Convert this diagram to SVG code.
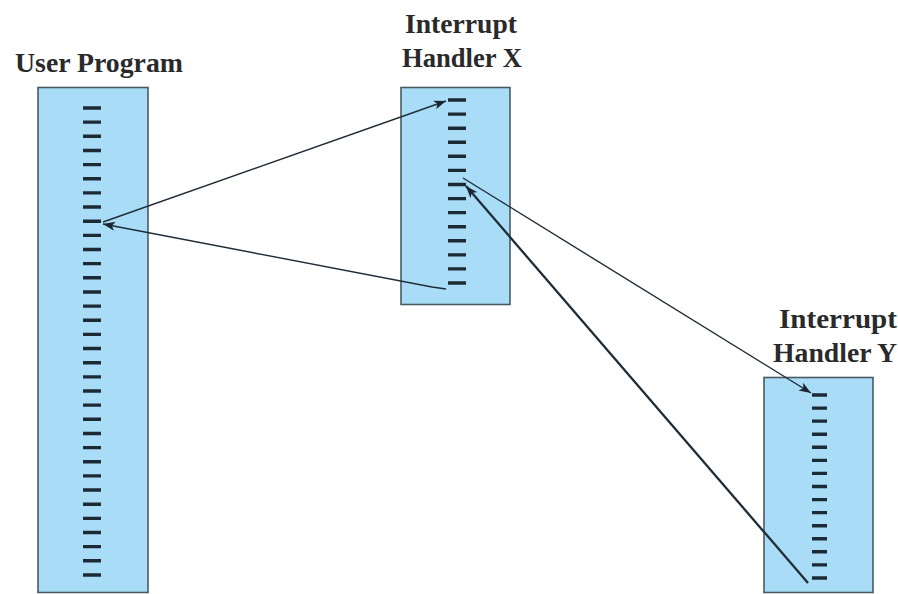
<svg xmlns="http://www.w3.org/2000/svg" width="898" height="594" viewBox="0 0 898 594">
  <style>
    .box { fill: #a9dcf6; stroke: #4a5a62; stroke-width: 1.6; }
    .dash { fill: none; stroke: #1c2a36; stroke-width: 3.4; }
    .lbl { font-family: "Liberation Serif", "Times New Roman", serif; font-weight: bold; font-size: 27px; fill: #2a2a2a; }
    .conn { fill: none; stroke: #1f2d38; stroke-width: 1.4; }
    .conn.thick { stroke-width: 2.3; }
  </style>
  <defs>
    <marker id="ah" markerUnits="userSpaceOnUse" markerWidth="14" markerHeight="10" refX="12" refY="5" orient="auto">
      <path d="M0,0.5 L12,5 L0,9.5 L3,5 Z" fill="#1a2630"/>
    </marker>
  </defs>
  <rect width="898" height="594" fill="#ffffff"/>

  <g id="user-program">
    <rect class="box" x="38" y="87.5" width="110" height="505"/>
    <path class="dash" d="M83,108h18M83,122.15h18M83,136.3h18M83,150.45h18M83,164.6h18M83,178.75h18M83,192.9h18M83,207.05h18M83,221.2h18M83,235.35h18M83,249.5h18M83,263.65h18M83,277.8h18M83,291.95h18M83,306.1h18M83,320.25h18M83,334.4h18M83,348.55h18M83,362.7h18M83,376.85h18M83,391h18M83,405.15h18M83,419.3h18M83,433.45h18M83,447.6h18M83,461.75h18M83,475.9h18M83,490.05h18M83,504.2h18M83,518.35h18M83,532.5h18M83,546.65h18M83,560.8h18M83,574.95h18"/>
    <text class="lbl" x="15" y="72" textLength="168" lengthAdjust="spacingAndGlyphs">User Program</text>
  </g>

  <g id="handler-x">
    <rect class="box" x="401" y="87.5" width="109" height="217"/>
    <path class="dash" d="M448,100h18M448,114.1h18M448,128.2h18M448,142.2h18M448,156.3h18M448,170.4h18M448,184.5h18M448,198.6h18M448,212.6h18M448,226.7h18M448,240.8h18M448,254.9h18M448,268.9h18M448,283h18"/>
    <text class="lbl" x="405" y="33" textLength="112" lengthAdjust="spacingAndGlyphs">Interrupt</text>
    <text class="lbl" x="402" y="67" textLength="120" lengthAdjust="spacingAndGlyphs">Handler X</text>
  </g>

  <g id="handler-y">
    <rect class="box" x="764" y="377.5" width="109" height="215"/>
    <path class="dash" d="M812,395h15M812,408.1h15M812,421.1h15M812,434.2h15M812,447.3h15M812,460.4h15M812,473.4h15M812,486.5h15M812,499.6h15M812,512.6h15M812,525.7h15M812,538.8h15M812,551.8h15M812,564.9h15M812,578h15"/>
    <text class="lbl" x="779" y="328" textLength="118" lengthAdjust="spacingAndGlyphs">Interrupt</text>
    <text class="lbl" x="773" y="362" textLength="124" lengthAdjust="spacingAndGlyphs">Handler Y</text>
  </g>

  <g id="connectors">
    <line class="conn" x1="103" y1="222" x2="446" y2="101" marker-end="url(#ah)"/>
    <path class="conn" d="M446,289 L432,287 L103,224" marker-end="url(#ah)"/>
    <line class="conn" x1="463" y1="178" x2="811" y2="393" marker-end="url(#ah)"/>
    <line class="conn thick" x1="808" y1="583" x2="466" y2="186" marker-end="url(#ah)"/>
  </g>
</svg>
